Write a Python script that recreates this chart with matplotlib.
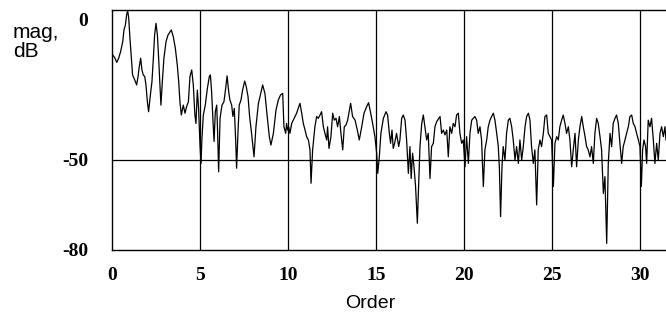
import matplotlib
matplotlib.use("Agg")
import matplotlib.pyplot as plt
import matplotlib.transforms as mtransforms

# Order (x) and magnitude in dB (y)
order = [
    0.04, 0.15, 0.27, 0.38, 0.49, 0.61, 0.68, 0.76, 0.83, 0.89, 0.95, 1.02, 1.10, 1.17, 1.29, 1.40,
    1.48, 1.55, 1.63, 1.70, 1.78, 1.86, 1.93, 2.01, 2.08, 2.16, 2.27, 2.35, 2.42, 2.50, 2.58, 2.65,
    2.73, 2.78, 2.86, 2.95, 3.07, 3.18, 3.30, 3.37, 3.48, 3.60, 3.71, 3.79, 3.86, 3.94,
    4.05, 4.15, 4.24, 4.34, 4.43, 4.53, 4.62, 4.71, 4.77, 4.85, 4.92, 5.00, 5.06, 5.11, 5.19, 5.30,
    5.42, 5.53, 5.59, 5.66, 5.74, 5.80, 5.87, 5.95, 6.00, 6.06, 6.14, 6.25, 6.36, 6.46, 6.54, 6.63,
    6.70, 6.80, 6.87, 6.95, 7.03, 7.08, 7.16, 7.23, 7.33, 7.42, 7.54, 7.63, 7.73, 7.82, 7.93,
    8.07, 8.18, 8.32, 8.41, 8.56, 8.69, 8.82, 8.94, 9.03, 9.17, 9.32, 9.45, 9.58, 9.70, 9.77, 9.87,
    9.92, 9.98, 10.04, 10.11, 10.21, 10.30, 10.49, 10.68, 10.78, 10.87, 10.97, 11.06, 11.16, 11.25,
    11.31, 11.40, 11.53, 11.63, 11.72, 11.82, 11.91, 12.01, 12.10, 12.20, 12.25, 12.33, 12.44, 12.54,
    12.63, 12.73, 12.82, 12.92, 13.01, 13.11, 13.20, 13.30, 13.39, 13.49, 13.56, 13.67, 13.81, 13.94,
    14.05, 14.19, 14.32, 14.47, 14.58, 14.70, 14.81, 14.94, 15.04, 15.10, 15.19, 15.28, 15.42, 15.57,
    15.66, 15.76, 15.83, 15.91, 15.98, 16.06, 16.17, 16.29, 16.36, 16.46, 16.55, 16.65, 16.74, 16.84,
    16.93, 17.00, 17.08, 17.16, 17.25, 17.35, 17.42, 17.50, 17.60, 17.69, 17.78, 17.88, 17.97, 18.07,
    18.16, 18.26, 18.35, 18.45, 18.64, 18.73, 18.83, 18.92, 19.02, 19.11, 19.20, 19.30, 19.39, 19.49,
    19.58, 19.68, 19.77, 19.87, 19.96, 20.06, 20.15, 20.25, 20.34, 20.44, 20.53, 20.62, 20.72, 20.81,
    20.91, 21.00, 21.10, 21.19, 21.29, 21.38, 21.48, 21.57, 21.67, 21.76, 21.86, 21.95, 22.01, 22.08,
    22.16, 22.23, 22.33, 22.42, 22.52, 22.61, 22.71, 22.80, 22.90, 22.99, 23.09, 23.18, 23.28, 23.37,
    23.47, 23.56, 23.66, 23.75, 23.84, 23.94, 24.03, 24.13, 24.22, 24.32, 24.41, 24.51, 24.60, 24.70,
    24.79, 24.89, 24.98, 25.08, 25.17, 25.27, 25.36, 25.45, 25.55, 25.64, 25.74, 25.83, 25.93, 26.02,
    26.12, 26.21, 26.31, 26.40, 26.50, 26.59, 26.69, 26.78, 26.88, 26.97, 27.06, 27.16, 27.25, 27.35,
    27.44, 27.54, 27.63, 27.73, 27.82, 27.92, 28.01, 28.11, 28.20, 28.30, 28.39, 28.48, 28.58, 28.67,
    28.77, 28.86, 28.96, 29.05, 29.15, 29.24, 29.34, 29.43, 29.53, 29.62, 29.72, 29.81, 29.91, 30.00,
    30.08, 30.15, 30.23, 30.32, 30.38, 30.47, 30.57, 30.66, 30.76, 30.85, 30.95, 31.04, 31.14, 31.23,
    31.33, 31.42, 31.48,
]
mag_db = [
    -15.1, -16.0, -17.6, -16.2, -14.0, -10.7, -6.8, -5.2, -1.8, -0.3, -2.9, -9.6, -16.2, -21.8, -23.4, -25.1,
    -22.3, -19.0, -16.2, -20.1, -21.8, -22.3, -25.1, -30.7, -34.0, -29.5, -24.0, -16.2, -8.5, -4.6, -8.5, -16.2,
    -26.2, -31.8, -24.0, -16.2, -10.7, -8.5, -7.4, -6.8, -9.0, -12.9, -18.5, -24.0, -30.7, -35.1,
    -31.8, -34.5, -32.3, -30.7, -22.3, -20.1, -25.1, -35.1, -37.9, -26.8, -32.9, -45.1, -51.2, -42.9, -35.1, -31.8,
    -26.2, -22.3, -21.8, -27.3, -37.3, -43.9, -34.0, -31.8, -40.6, -54.0, -36.2, -31.8, -30.7, -26.2, -22.1, -27.3,
    -30.1, -31.8, -35.6, -32.9, -43.9, -52.8, -40.6, -31.8, -30.1, -26.8, -23.8, -25.7, -29.0, -35.6, -41.2,
    -49.0, -39.0, -31.2, -29.0, -25.1, -27.9, -35.6, -42.3, -45.1, -41.2, -33.4, -30.1, -28.4, -27.9, -39.0, -41.2,
    -37.9, -40.1, -39.0, -41.2, -37.9, -36.8, -34.5, -31.2, -34.5, -37.9, -40.1, -42.3, -43.4, -46.7,
    -57.8, -46.7, -39.0, -35.6, -36.2, -35.1, -34.0, -39.0, -41.2, -43.4, -39.0, -46.2, -42.3, -34.5,
    -36.8, -36.2, -39.0, -35.6, -41.2, -46.7, -39.0, -38.4, -36.8, -33.4, -31.2, -35.6, -36.8, -40.1,
    -43.4, -39.0, -34.5, -32.3, -31.0, -34.5, -37.9, -42.3, -47.8, -54.5, -49.0, -41.2, -36.2, -34.0,
    -35.1, -41.2, -44.5, -40.1, -46.2, -44.5, -41.2, -45.6, -43.4, -36.2, -35.1, -36.8, -43.4, -54.5,
    -45.6, -56.2, -47.8, -52.3, -58.9, -71.1, -58.9, -45.6, -37.9, -35.1, -39.0, -43.4, -41.2, -56.2,
    -45.6, -44.5, -39.0, -37.3, -35.6, -41.2, -40.1, -41.7, -40.1, -49.0, -39.0, -41.2, -37.9, -39.0,
    -35.1, -34.5, -41.2, -44.5, -43.4, -52.3, -42.3, -51.2, -41.2, -36.8, -36.2, -35.6, -36.8, -41.2,
    -39.0, -43.4, -58.9, -46.7, -43.4, -39.0, -36.8, -35.6, -34.5, -36.8, -41.2, -45.6, -52.3, -68.9,
    -52.3, -45.6, -50.1, -41.2, -36.8, -36.2, -39.0, -43.4, -50.1, -45.6, -51.2, -43.4, -50.1, -45.6,
    -39.0, -35.6, -34.5, -36.8, -45.6, -51.2, -46.7, -65.0, -46.7, -43.4, -45.6, -41.2, -35.6, -35.1,
    -41.2, -42.3, -43.4, -58.9, -44.5, -42.3, -43.4, -39.0, -36.8, -35.1, -37.9, -41.2, -39.0, -43.4,
    -52.3, -46.7, -41.2, -52.3, -43.4, -39.0, -35.6, -39.0, -42.3, -45.6, -46.7, -49.0, -45.6, -51.2,
    -41.2, -36.2, -37.9, -42.3, -46.7, -61.2, -55.6, -77.8, -51.2, -41.2, -45.6, -37.9, -36.2, -35.1,
    -37.9, -44.5, -51.2, -45.6, -43.4, -41.2, -39.0, -35.6, -35.1, -37.9, -39.0, -41.2, -43.4, -45.6,
    -58.9, -46.7, -43.4, -45.6, -51.2, -36.8, -39.0, -36.2, -43.4, -51.2, -44.5, -50.1, -41.2, -39.0,
    -42.3, -39.0, -43.4,
]
x_ticks = [0, 5, 10, 15, 20, 25, 30]
x_tick_labels = ["0", "5", "10", "15", "20", "25", "30"]
y_ticks = [0, -50, -80]
y_tick_labels = ["0", "-50", "-80"]

fig = plt.figure(figsize=(6.66, 3.2), dpi=100)
ax = fig.add_axes([112 / 666, 70 / 320, 1 - 112 / 666, (250 - 9.5) / 320])

ax.plot(order, mag_db, color="black", linewidth=0.9)
ax.set_xlim(0, 31.48)
ax.set_ylim(-80, 0)

for xv in x_ticks[1:]:
    ax.axvline(xv, color="black", linewidth=0.9, zorder=0)
ax.axhline(-50, color="black", linewidth=0.9, zorder=0)

for side in ["left", "bottom", "top"]:
    ax.spines[side].set_linewidth(1.0)
ax.spines["right"].set_visible(False)

tick_font = dict(family="Liberation Serif", weight="bold", size=14)
ax.set_xticks(x_ticks)
ax.set_xticklabels(x_tick_labels, **tick_font)
ax.set_yticks(y_ticks)
ax.set_yticklabels(y_tick_labels, **tick_font)
ax.tick_params(axis="both", length=0)
ax.tick_params(axis="x", pad=12)
ax.tick_params(axis="y", pad=17)

# shift the "0" label down as in the reference
offset = mtransforms.ScaledTranslation(0, -10 / 100, fig.dpi_scale_trans)
ylabels = ax.get_yticklabels()
ylabels[0].set_transform(ylabels[0].get_transform() + offset)

fig.text(13 / 666, 1 - 23 / 320, "mag,\ndB", family="Liberation Sans", size=15,
         ha="left", va="top", linespacing=1.0)
fig.text(370 / 666, 1 - 303 / 320, "Order", family="Liberation Sans", size=14,
         ha="center", va="center")

fig.savefig("out.png", dpi=100)
